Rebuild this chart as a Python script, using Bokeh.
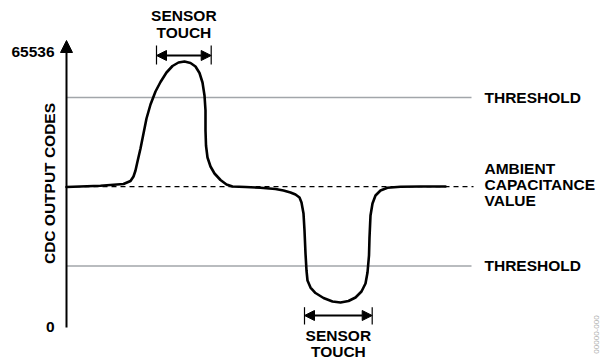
from bokeh.plotting import figure
from bokeh.models import Range1d, Arrow, NormalHead
from bokeh.core.properties import value
from bokeh.embed import file_html
from bokeh.resources import INLINE
import math

# ---------------- data (time in arbitrary units, y in CDC output codes) ----------------
curve_t = [0, 34, 57, 64, 67, 69, 71, 74, 77, 80, 84, 89, 94, 100, 106, 112, 118, 124, 129,
           133, 136, 138, 139, 139, 139.5, 141, 144, 148, 154, 160, 166, 179, 194, 209, 217,
           224, 229, 233, 235, 237, 238, 239, 240, 241, 244, 249, 257, 266, 274, 282, 289,
           295, 299, 301, 302.5, 303, 304, 306, 309, 314, 321, 334, 354, 379]
curve_codes = [33427, 33714, 34146, 34865, 35943, 37381, 39537, 42652, 46247, 49841, 53196,
               56311, 58587, 60863, 62421, 63260, 63499, 63140, 62301, 60744, 58467, 55352,
               51758, 46966, 43371, 40496, 38339, 36662, 35104, 34026, 33547, 33427, 33235,
               32948, 32588, 32109, 31630, 30911, 29713, 27077, 23004, 17492, 13419, 11023,
               9345, 8027, 6829, 5991, 5751, 6110, 6949, 8387, 10304, 12939, 17013, 21326,
               26598, 29473, 31390, 32588, 33235, 33475, 33547, 33547]

ambient_code = 33500
upper_threshold = 54900
lower_threshold = 14500
code_min = 0
code_max = 65536
tick_labels = ["0", "65536"]
touch_intervals = [(90, 144.7), (238, 305.7)]
touch_label = "SENSOR\nTOUCH"
right_labels = ["THRESHOLD", "AMBIENT", "CAPACITANCE", "VALUE", "THRESHOLD"]
y_axis_label = "CDC OUTPUT CODES"

# ---------------- layout / style ----------------
FONT = value("Liberation Sans")
FS = "15.5px"
k = 65536 / 273.5            # codes per pixel
line_end_t = 405
label_t = 418

p = figure(width=603, height=360, x_range=Range1d(-66, 537),
           y_range=Range1d(-34 * k, 326 * k), min_border=0,
           x_axis_type=None, y_axis_type=None,
           toolbar_location=None, output_backend="svg")
p.grid.visible = False
p.outline_line_color = None
p.background_fill_color = "white"
p.border_fill_color = "white"

# threshold lines
p.segment(x0=[0, 0], y0=[upper_threshold, lower_threshold],
          x1=[line_end_t, line_end_t], y1=[upper_threshold, lower_threshold],
          line_color="#a2a6aa", line_width=1.5)
# ambient dashed line
p.segment(x0=[0], y0=[ambient_code], x1=[line_end_t + 2], y1=[ambient_code],
          line_color="black", line_width=1.2, line_dash="5 4")

# curve
p.line(curve_t, curve_codes, line_color="black", line_width=2.6, line_join="round",
       line_cap="round")

# y axis with arrow
p.add_layout(Arrow(end=NormalHead(size=12, fill_color="black", line_color="black", line_width=1),
                   x_start=0, y_start=code_min - 1 * k, x_end=0, y_end=286 * k,
                   line_color="black", line_width=2))
p.text(x=[-12, -12], y=[code_min, code_max + 1.5 * k], text=[tick_labels[0], tick_labels[1]],
       text_font=FONT, text_font_style="bold", text_font_size=FS,
       text_align="right", text_baseline="middle", text_color="black")
p.text(x=[-17], y=[143 * k], text=[y_axis_label], angle=math.pi / 2,
       text_font=FONT, text_font_style="bold", text_font_size=FS,
       text_align="center", text_baseline="middle", text_color="black")

# sensor touch markers
arrow_y = [271 * k, 11 * k]
tick_y = [(262 * k, 281 * k), (2 * k, 19.3 * k)]
label_y = [(311 * k, 294 * k), (-9 * k, -25 * k)]
for (t0, t1), ay, (ty0, ty1), (ly0, ly1) in zip(touch_intervals, arrow_y, tick_y, label_y):
    p.segment(x0=[t0, t1], y0=[ty0, ty0], x1=[t0, t1], y1=[ty1, ty1],
              line_color="black", line_width=1.2)
    p.add_layout(Arrow(start=NormalHead(size=10, fill_color="black", line_color="black", line_width=1),
                       end=NormalHead(size=10, fill_color="black", line_color="black", line_width=1),
                       x_start=t0, y_start=ay, x_end=t1, y_end=ay,
                       line_color="black", line_width=1.8))
    words = touch_label.split("\n")
    p.text(x=[(t0 + t1) / 2] * 2, y=[ly0, ly1], text=words,
           text_font=FONT, text_font_style="bold", text_font_size=FS,
           text_align="center", text_baseline="middle", text_color="black")

# right-hand labels
p.text(x=[label_t] * 5,
       y=[upper_threshold, ambient_code + 18 * k, ambient_code + 2 * k,
          ambient_code - 13.5 * k, lower_threshold],
       text=right_labels,
       text_font=FONT, text_font_style="bold", text_font_size=FS,
       text_align="left", text_baseline="middle", text_color="black")

# figure id (faint, rotated)
p.text(x=[530], y=[-8 * k], text=["00000-000"], angle=math.pi / 2,
       text_font=FONT, text_font_size="8px", text_color="#b0b0b0",
       text_align="center", text_baseline="middle")

open("out.html", "w").write(file_html(p, INLINE))
